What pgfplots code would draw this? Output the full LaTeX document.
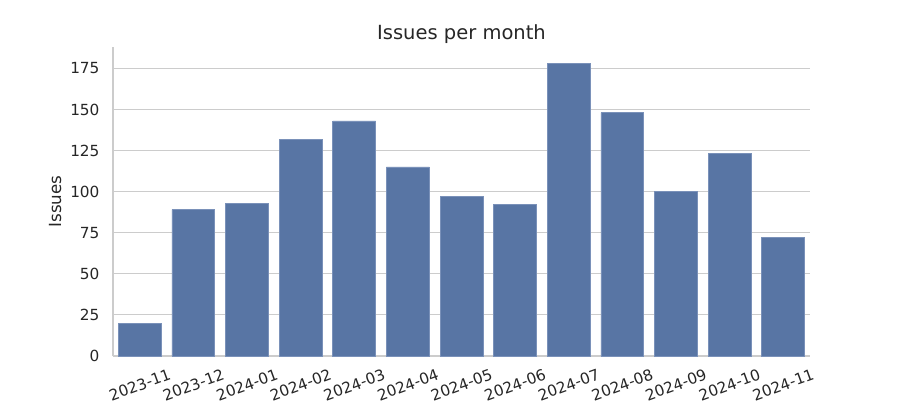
\documentclass[border=0pt]{standalone}
\usepackage{pgfplots}
\pgfplotsset{compat=1.18}
\usepackage{fontspec}
\setmainfont{DejaVu Sans}
\definecolor{barblue}{HTML}{5875A4}
\definecolor{baredge}{HTML}{7A91B9}
\definecolor{gridgray}{HTML}{CCCCCC}
\definecolor{txt}{HTML}{262626}
\begin{document}
\begin{tikzpicture}
\begin{axis}[
  scale only axis,
  width=697pt, height=309pt,
  xmin=-0.5, xmax=12.5,
  ymin=0, ymax=188,
  axis x line*=bottom, axis y line*=left,
  axis line style={gridgray, line width=1.25pt},
  ymajorgrids, grid style={gridgray, line width=1pt},
  ytick={0,25,50,75,100,125,150,175},
  xtick={0,...,12},
  xticklabels={2023-11,2023-12,2024-01,2024-02,2024-03,2024-04,2024-05,2024-06,2024-07,2024-08,2024-09,2024-10,2024-11},
  major tick length=0pt,
  tick label style={font=\fontsize{15.3}{18}\selectfont, text=txt},
  /pgf/number format/assume math mode=true,
  xticklabel style={anchor=center, yshift=-29pt, rotate=20},
  yticklabel style={xshift=-10pt},
  ylabel={Issues},
  ylabel shift=2pt,
  ylabel style={font=\fontsize{16.7}{20}\selectfont, text=txt},
  title={Issues per month},
  title style={font=\fontsize{19.5}{23}\selectfont, text=txt, yshift=-6pt},
]
\coordinate (O) at (rel axis cs:0,0);
\addplot[ybar, bar width=0.8, fill=barblue, draw=baredge, line width=0.8pt] coordinates {
(0,20) (1,89) (2,93) (3,132) (4,143) (5,115) (6,97) (7,92) (8,178) (9,148) (10,100) (11,123) (12,72)
};
\end{axis}
\path[use as bounding box] ([shift={(-113pt,-44pt)}]O) rectangle ++(900pt,400pt);
\end{tikzpicture}
\end{document}
